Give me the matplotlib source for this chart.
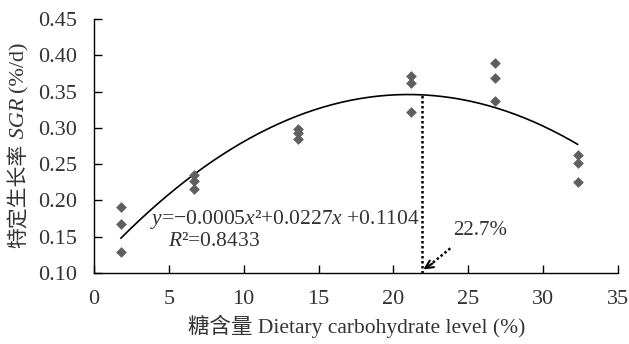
import numpy as np
import matplotlib.pyplot as plt

# ── data ──────────────────────────────────────────────────────
carb     = [1.8, 6.7, 13.6, 21.2, 26.8, 32.3]        # dietary carbohydrate level (%)
sgr_rep1 = [0.191, 0.235, 0.299, 0.371, 0.389, 0.262]
sgr_rep2 = [0.167, 0.227, 0.293, 0.362, 0.369, 0.252]
sgr_rep3 = [0.129, 0.216, 0.284, 0.322, 0.337, 0.225]

# fitted curve as drawn
curve_a, curve_b, curve_c = -0.000537, 0.02255, 0.1092
optimum_x = 21.9        # dotted marker line
optimum_label = "22.7%"

xticks = [0, 5, 10, 15, 20, 25, 30, 35]
yticks = [0.10, 0.15, 0.20, 0.25, 0.30, 0.35, 0.40, 0.45]
# ─────────────────────────────────────────────────────────────

plt.rcParams["font.family"] = ["Liberation Serif", "Noto Sans CJK SC"]
plt.rcParams["mathtext.fontset"] = "custom"
plt.rcParams["mathtext.rm"] = "Liberation Serif"
plt.rcParams["mathtext.it"] = "Liberation Serif:italic"

TXT = "#333333"
FS = 16

fig = plt.figure(figsize=(6.29, 3.44), dpi=100)
ax = fig.add_axes([94 / 629, 1 - 273 / 344, 524 / 629, 254 / 344])

for reps in (sgr_rep1, sgr_rep2, sgr_rep3):
    ax.scatter(carb, reps, marker="D", s=30, color="#5f5f5f", linewidths=0, zorder=3)

xs = np.linspace(carb[0], carb[-1], 200)
ax.plot(xs, curve_a * xs**2 + curve_b * xs + curve_c, color="black", lw=1.2)

ytop = curve_a * optimum_x**2 + curve_b * optimum_x + curve_c
ax.plot([optimum_x, optimum_x], [0.10, ytop], color="black", lw=1.8, ls=(0, (1, 1)))

# dotted arrow towards the optimum
ax.plot([23.8, 22.5], [0.134, 0.112], color="black", lw=1.8, ls=(0, (1, 1)))
ax.annotate("", xy=(22.0, 0.105), xytext=(22.6, 0.113),
            arrowprops=dict(arrowstyle="->", color="black", lw=1.5,
                            mutation_scale=14, shrinkA=0, shrinkB=0))
ax.text(24.0, 0.158, optimum_label, fontsize=15, color=TXT, va="center")

ax.text(3.74, 0.174, "$y$=−0.0005$x$²+0.0227$x$ +0.1104",
        fontsize=15.5, color=TXT, va="center")
ax.text(4.94, 0.144, "$R$²=0.8433", fontsize=15.5, color=TXT, va="center")

ax.set_xlim(0, 35)
ax.set_ylim(0.10, 0.45)
ax.set_xticks(xticks)
ax.set_yticks(yticks)
ax.set_yticklabels([f"{v:.2f}" for v in yticks])
ax.tick_params(axis="both", direction="in", length=6, width=1,
               labelsize=FS, labelcolor=TXT)
ax.tick_params(axis="x", pad=12)
ax.tick_params(axis="y", pad=12)
for s in ("top", "right"):
    ax.spines[s].set_visible(False)
for s in ("left", "bottom"):
    ax.spines[s].set_linewidth(1)

fig.text(357 / 629, 1 - 326 / 344, "糖含量 Dietary carbohydrate level (%)",
         fontsize=15.5, color=TXT, ha="center", va="center")

# y label in pieces so SGR can be italic
t1 = fig.text(19 / 629, 1 - 248 / 344, "特定生长率", rotation=90, fontsize=15,
              color=TXT, ha="center", va="bottom", family="Noto Sans CJK SC")
t2 = ax.annotate(" SGR ", xy=(0.5, 1), xycoords=t1, rotation=90, fontsize=FS,
                 color=TXT, ha="center", va="bottom", style="italic",
                 family="Liberation Serif")
ax.annotate("(%/d)", xy=(0.5, 1), xycoords=t2, rotation=90, fontsize=FS,
            color=TXT, ha="center", va="bottom", family="Liberation Serif")

fig.savefig("out.png", dpi=100)
